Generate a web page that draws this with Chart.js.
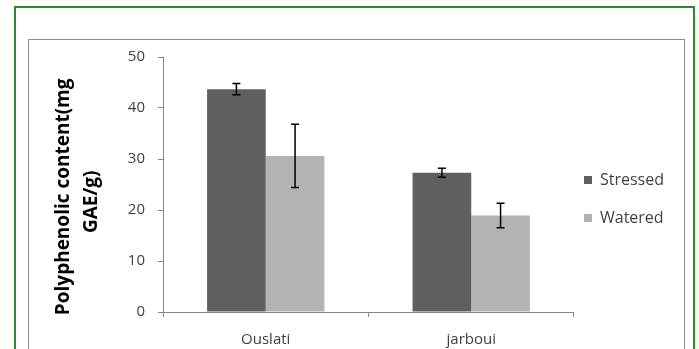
<!DOCTYPE html>
<html lang="en">
<head>
<meta charset="UTF-8">
<title>Polyphenolic content</title>
<style>
  body { margin: 0; background: #fff; }
  #wrap { position: relative; width: 699px; height: 349px; overflow: hidden; }
  .outer { position: absolute; left: 14px; top: 6px; width: 677px; height: 400px; border: 2px solid #2b8a2b; }
  .inner { position: absolute; left: 28px; top: 39px; width: 655px; height: 400px; border: 1px solid #8c8c8c; }
  canvas { position: absolute; left: 0; top: 0; }
</style>
</head>
<body>
<div id="wrap">
  <div class="outer"></div>
  <div class="inner"></div>
  <canvas id="chart" width="699" height="349"></canvas>
</div>

<script src="https://cdn.jsdelivr.net/npm/chart.js"></script>
<script>
// values
const cultivars = ['Ouslati', 'jarboui'];
const stressed = [43.7, 27.3];
const stressedErr = [1.1, 0.9];
const watered = [30.6, 18.9];
const wateredErr = [6.2, 2.4];
const yTicks = [0, 10, 20, 30, 40, 50];

Chart.defaults.font.family = "'Open Sans', sans-serif";

// black whiskers on top of every bar
const errorBars = {
  id: 'errorBars',
  afterDatasetsDraw(chart) {
    const ctx = chart.ctx;
    const y = chart.scales.y;
    chart.data.datasets.forEach((ds, i) => {
      chart.getDatasetMeta(i).data.forEach((bar, j) => {
        const v = ds.data[j], e = ds.errors[j];
        const top = y.getPixelForValue(v + e), bot = y.getPixelForValue(v - e);
        ctx.save();
        ctx.strokeStyle = '#000';
        ctx.lineWidth = 1.5;
        ctx.beginPath();
        ctx.moveTo(bar.x, top); ctx.lineTo(bar.x, bot);
        ctx.moveTo(bar.x - 4, top); ctx.lineTo(bar.x + 4, top);
        ctx.moveTo(bar.x - 4, bot); ctx.lineTo(bar.x + 4, bot);
        ctx.stroke();
        ctx.restore();
      });
    });
  }
};

new Chart(document.getElementById('chart'), {
  type: 'bar',
  data: {
    labels: cultivars,
    datasets: [
      { label: 'Stressed', data: stressed, errors: stressedErr, backgroundColor: '#5f5f5f' },
      { label: 'Watered', data: watered, errors: wateredErr, backgroundColor: '#b3b3b3' }
    ]
  },
  options: {
    responsive: false,
    animation: false,
    categoryPercentage: 0.571,
    barPercentage: 1,
    layout: { padding: { left: 20, top: 57, right: 25, bottom: 0 } },
    scales: {
      x: {
        grid: { drawOnChartArea: false, tickLength: 5, color: '#868686', offset: true },
        border: { color: '#868686' },
        ticks: { color: '#404040', font: { size: 15 }, padding: 14 },
        afterFit: s => { s.height = 37; }
      },
      y: {
        min: 0, max: 50,
        afterBuildTicks: s => { s.ticks = yTicks.map(v => ({ value: v })); },
        grid: { drawOnChartArea: false, tickLength: 5, color: '#868686' },
        border: { color: '#868686' },
        ticks: { color: '#404040', font: { size: 15 }, padding: 13 },
        title: {
          display: true,
          text: ['Polyphenolic content(mg     ', 'GAE/g)       '],
          color: '#000',
          font: { size: 19, weight: 'bold', lineHeight: 28 / 19 },
          padding: { top: 30, bottom: 0 }
        },
        afterFit: s => { s.width = 143; }
      }
    },
    plugins: {
      tooltip: { enabled: false },
      legend: {
        position: 'right',
        title: { display: true, text: '', padding: 0, font: { lineHeight: '4px' } },
        labels: {
          color: '#404040',
          font: { size: 16, lineHeight: 28 / 16 },
          boxWidth: 8,
          boxHeight: 8,
          padding: 10,
          generateLabels: chart =>
            Chart.defaults.plugins.legend.labels.generateLabels(chart)
              .map(l => Object.assign(l, { text: [l.text], lineWidth: 0 }))
        }
      }
    }
  },
  plugins: [errorBars]
});
</script>
</body>
</html>
